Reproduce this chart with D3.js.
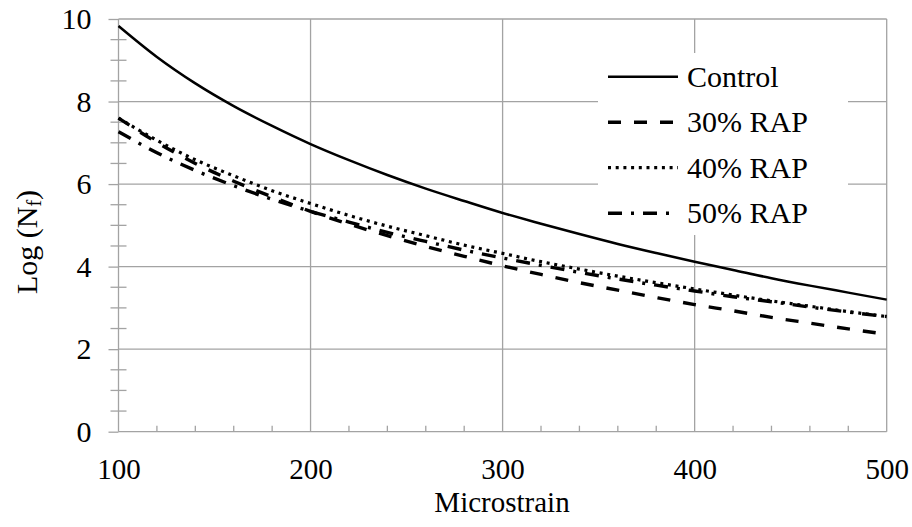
<!DOCTYPE html>
<html>
<head>
<meta charset="utf-8">
<script src="https://cdn.jsdelivr.net/npm/d3@7/dist/d3.min.js"></script>
<style>
  html, body { margin: 0; padding: 0; background: #fff; }
  svg { display: block; }
  svg text { font-family: "Liberation Serif", "Times New Roman", Times, serif !important; fill: #000; }
</style>
</head>
<body>
<svg id="chart" width="912" height="527" font-family="Liberation Serif, Times New Roman, serif"></svg>
<script>
// Microstrain levels (x) and fatigue life, Log(Nf), for each mix
const strain = [100, 120, 140, 160, 180, 200, 220, 240, 260, 280, 300,
                320, 340, 360, 380, 400, 420, 440, 460, 480, 500];
const control = [9.83, 9.08, 8.44, 7.89, 7.41, 6.97, 6.58, 6.22, 5.89, 5.59, 5.30,
                 5.04, 4.79, 4.55, 4.33, 4.12, 3.92, 3.72, 3.54, 3.37, 3.20];
const rap30 = [7.60, 7.01, 6.50, 6.07, 5.69, 5.34, 5.03, 4.75, 4.49, 4.25, 4.02,
               3.81, 3.61, 3.43, 3.25, 3.08, 2.93, 2.77, 2.63, 2.49, 2.36];
const rap40 = [7.60, 7.06, 6.59, 6.20, 5.84, 5.53, 5.24, 4.98, 4.75, 4.52, 4.32,
               4.12, 3.94, 3.77, 3.61, 3.46, 3.31, 3.17, 3.04, 2.91, 2.79];
const rap50 = [7.27, 6.76, 6.33, 5.96, 5.63, 5.34, 5.08, 4.83, 4.61, 4.40, 4.21,
               4.03, 3.86, 3.70, 3.55, 3.41, 3.27, 3.15, 3.02, 2.90, 2.79];
const seriesNames = ["Control", "30% RAP", "40% RAP", "50% RAP"];
const xTicks = [100, 200, 300, 400, 500];
const yTicks = [0, 2, 4, 6, 8, 10];

const series = [
  { name: seriesNames[0], values: control, dash: null,          width: 2.5 },
  { name: seriesNames[1], values: rap30,   dash: "13,13",       width: 3.4 },
  { name: seriesNames[2], values: rap40,   dash: "3,4.7",       width: 3.2 },
  { name: seriesNames[3], values: rap50,   dash: "14,9,3,9",    width: 3.4 }
];

const FONT = '"Liberation Serif", "Times New Roman", serif';
const svg = d3.select("#chart");
const x = d3.scaleLinear().domain([100, 500]).range([118.5, 886.7]);
const y = d3.scaleLinear().domain([0, 10]).range([431.7, 19]);
const gridColor = "#a3a3a3";

// grid
const grid = svg.append("g").attr("stroke", gridColor).attr("stroke-width", 1.3);
grid.selectAll("line.v").data(xTicks).join("line")
  .attr("x1", d => x(d)).attr("x2", d => x(d))
  .attr("y1", y(0)).attr("y2", y(10));
grid.selectAll("line.h").data(yTicks).join("line")
  .attr("x1", x(100)).attr("x2", x(500))
  .attr("y1", d => y(d)).attr("y2", d => y(d));

// minor ticks
const xMinor = d3.range(100, 501, 20).filter(v => v % 100 !== 0);
const yMinor = d3.range(0, 10.01, 0.5).filter(v => v % 2 !== 0);
grid.selectAll("line.xm").data(xMinor).join("line")
  .attr("x1", d => x(d)).attr("x2", d => x(d))
  .attr("y1", y(0)).attr("y2", y(0) - 6);
grid.selectAll("line.ym").data(yMinor).join("line")
  .attr("x1", x(100) - 8).attr("x2", x(100) + 8)
  .attr("y1", d => y(d)).attr("y2", d => y(d));

// axes
const yAxis = svg.append("g")
  .attr("transform", `translate(${x(100)},0)`)
  .call(d3.axisLeft(y).tickValues(yTicks).tickSize(10).tickPadding(17));
const xAxis = svg.append("g")
  .attr("transform", `translate(0,${y(0)})`)
  .call(d3.axisBottom(x).tickValues(xTicks).tickSize(0).tickPadding(27));
[yAxis, xAxis].forEach(g => {
  g.attr("font-family", FONT).attr("font-size", 30);
  g.select(".domain").remove();
  g.selectAll(".tick line").attr("stroke", gridColor).attr("stroke-width", 1.3);
  g.selectAll(".tick text").attr("fill", "#000");
});
xAxis.attr("font-size", 29);

// legend backdrop
svg.append("rect").attr("x", 598).attr("y", 53).attr("width", 250).attr("height", 182)
  .attr("fill", "#fff");

// curves
const line = d3.line()
  .x((d, i) => x(strain[i]))
  .y(d => y(d))
  .curve(d3.curveMonotoneX);
svg.append("g").selectAll("path").data(series).join("path")
  .attr("d", d => line(d.values))
  .attr("fill", "none")
  .attr("stroke", "#000")
  .attr("stroke-width", d => d.width)
  .attr("stroke-dasharray", d => d.dash);

// legend
const leg = svg.append("g").selectAll("g").data(series).join("g")
  .attr("transform", (d, i) => `translate(608,${76.7 + i * 45.5})`);
leg.append("line").attr("x1", 0).attr("x2", 70).attr("y1", 0).attr("y2", 0)
  .attr("stroke", "#000").attr("stroke-width", d => d.width)
  .attr("stroke-dasharray", d => d.dash);
leg.append("text").attr("x", 79).attr("y", 10)
  .attr("font-family", FONT).attr("font-size", 30)
  .text(d => d.name);

// axis titles
svg.append("text").attr("x", 502).attr("y", 512).attr("text-anchor", "middle")
  .attr("font-family", FONT).attr("font-size", 29).text("Microstrain");
const yt = svg.append("text")
  .attr("transform", "translate(37,242) rotate(-90)")
  .attr("text-anchor", "middle")
  .attr("font-family", FONT).attr("font-size", 30);
yt.append("tspan").text("Log (N");
yt.append("tspan").attr("baseline-shift", "-22%").attr("font-size", 20).text("f");
yt.append("tspan").text(")");
</script>
</body>
</html>
